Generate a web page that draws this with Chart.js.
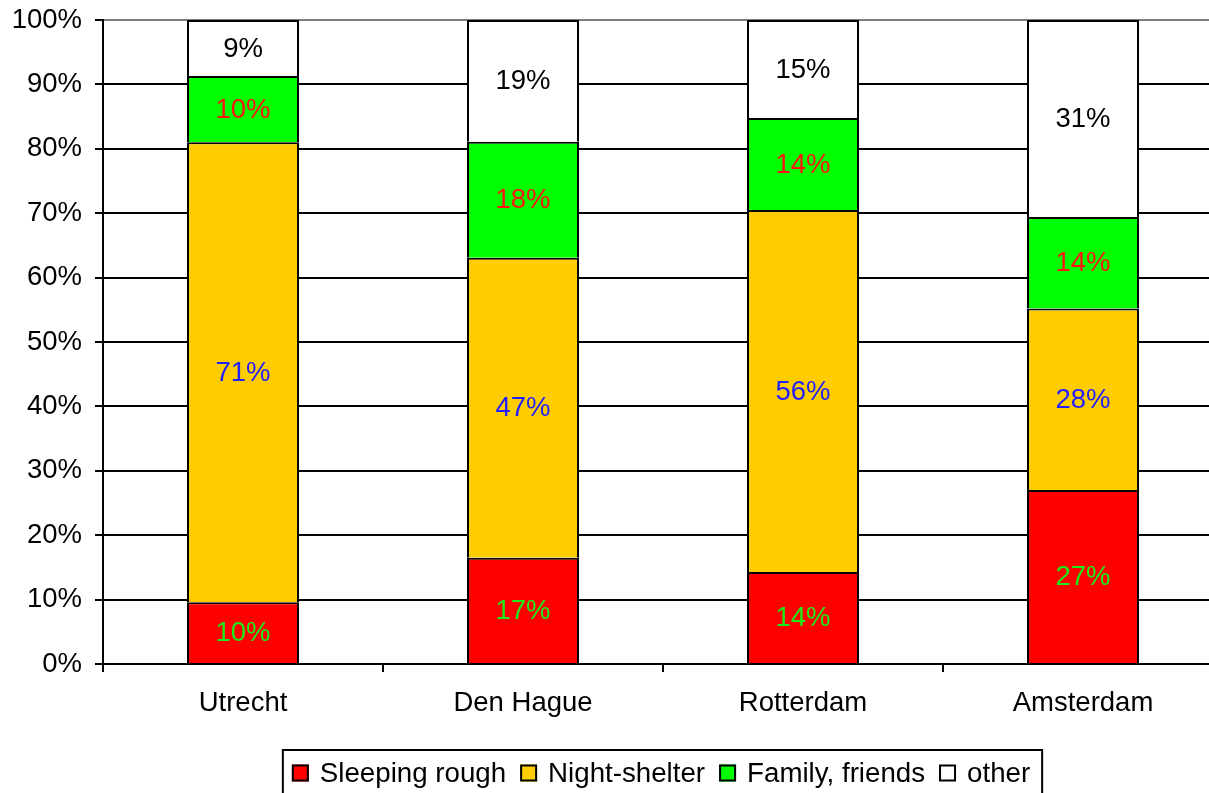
<!DOCTYPE html>
<html>
<head>
<meta charset="utf-8">
<script src="https://cdn.jsdelivr.net/npm/chart.js@4.4.1/dist/chart.umd.min.js"></script>
<style>
  html, body { margin: 0; padding: 0; width: 1209px; height: 793px; overflow: hidden; background: #fff; }
  canvas { display: block; }
</style>
</head>
<body>
<canvas id="chart" width="1240" height="793"></canvas>
<script>
const cities = ['Utrecht', 'Den Hague', 'Rotterdam', 'Amsterdam'];
const sleepingRough = [9.6, 16.5, 14.3, 27.0];
const nightShelter = [71.4, 46.6, 56.2, 28.2];
const familyFriends = [10.3, 18.0, 14.3, 14.2];
const other = [8.7, 18.9, 15.2, 30.6];
const yTicks = [0, 10, 20, 30, 40, 50, 60, 70, 80, 90, 100];

const FONT = 'Arial, "Liberation Sans", sans-serif';
const labelColors = ['#1aee1a', '#1f1fff', '#ff1414', '#000000'];

// percentage labels in the middle of each segment
const barLabels = {
    id: 'barLabels',
    afterDatasetsDraw(chart) {
        const ctx = chart.ctx;
        ctx.save();
        ctx.font = `27.5px ${FONT}`;
        ctx.textAlign = 'center';
        ctx.textBaseline = 'middle';
        chart.data.datasets.forEach((ds, i) => {
            chart.getDatasetMeta(i).data.forEach((bar, j) => {
                ctx.fillStyle = labelColors[i];
                ctx.fillText(Math.round(ds.data[j]) + '%', bar.x, (bar.y + bar.base) / 2 + 1);
            });
        });
        ctx.restore();
    }
};

// boxed legend under the chart
const legendBox = {
    id: 'legendBox',
    afterDraw(chart) {
        const ctx = chart.ctx;
        ctx.save();
        ctx.font = `27.7px ${FONT}`;
        ctx.textBaseline = 'middle';
        const items = chart.data.datasets.map(ds => ({
            label: ds.label,
            color: ds.backgroundColor,
            w: 17 + 11 + ctx.measureText(ds.label).width
        }));
        const total = items.reduce((s, it) => s + it.w, 0) + 14 * (items.length - 1);
        let x = 661 - total / 2;
        const y = 773;
        ctx.lineWidth = 2;
        ctx.strokeStyle = '#000';
        ctx.strokeRect(x - 9, 750, total + 21, 80);
        items.forEach(it => {
            ctx.fillStyle = it.color;
            ctx.fillRect(x, y - 8.5, 17, 17);
            ctx.strokeRect(x + 1, y - 7.5, 15, 15);
            ctx.fillStyle = '#000';
            ctx.fillText(it.label, x + 28, y + 1);
            x += it.w + 14;
        });
        ctx.restore();
    }
};

const common = { borderColor: '#000', borderWidth: 2, categoryPercentage: 1, barPercentage: 0.4 };

new Chart(document.getElementById('chart'), {
    type: 'bar',
    data: {
        labels: cities,
        datasets: [
            { label: 'Sleeping rough', data: sleepingRough, backgroundColor: '#ff0000', ...common },
            { label: 'Night-shelter', data: nightShelter, backgroundColor: '#ffcc00', ...common },
            { label: 'Family, friends', data: familyFriends, backgroundColor: '#00ff00', ...common },
            { label: 'other', data: other, backgroundColor: '#ffffff', ...common }
        ]
    },
    options: {
        responsive: false,
        animation: false,
        layout: { padding: { top: 20, left: 0, right: 17, bottom: 69 } },
        plugins: { legend: { display: false }, tooltip: { enabled: false } },
        scales: {
            x: {
                stacked: true,
                ticks: { color: '#000', font: { family: FONT, size: 27.5 }, padding: 15 },
                grid: { drawOnChartArea: false, drawTicks: true, tickLength: 8, color: '#000', lineWidth: 2 },
                border: { color: '#000', width: 2 },
                afterFit: s => { s.height = 60; s.paddingLeft = 0; s.paddingRight = 0; }
            },
            y: {
                stacked: true,
                min: 0,
                max: 100,
                afterBuildTicks: s => { s.ticks = yTicks.map(v => ({ value: v })); },
                ticks: { callback: v => v + '%', color: '#000', font: { family: FONT, size: 27.5 }, padding: 13 },
                grid: {
                    color: c => (c.tick && c.tick.value === 100 ? '#808080' : '#000'),
                    tickColor: '#000',
                    lineWidth: 2,
                    tickLength: 8
                },
                border: { color: '#000', width: 2 },
                afterFit: s => { s.width = 103; s.paddingTop = 0; s.paddingBottom = 0; }
            }
        }
    },
    plugins: [barLabels, legendBox]
});
</script>
</body>
</html>
